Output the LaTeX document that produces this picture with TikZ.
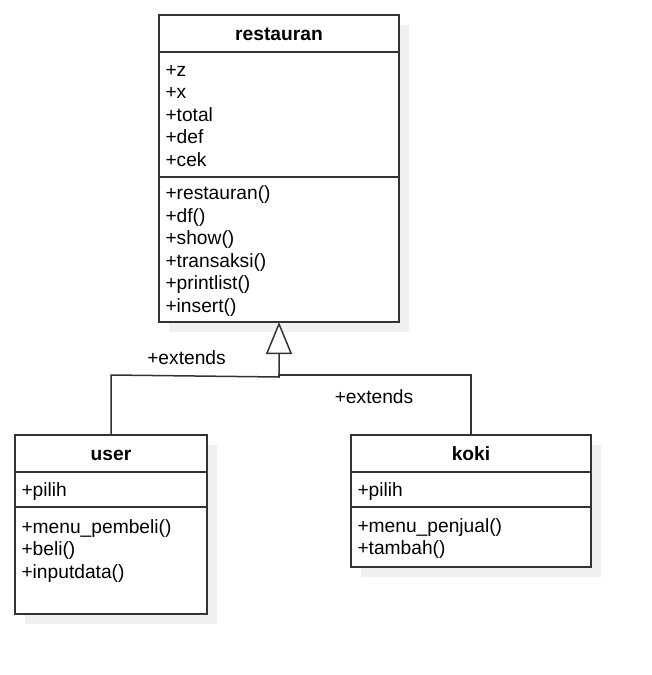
\documentclass[tikz,border=0pt]{standalone}
\usepackage{fontspec}
\setmainfont{Liberation Sans}
\usetikzlibrary{positioning,arrows.meta,backgrounds}

\newcommand{\umlfont}{\fontsize{19.2}{22.5}\selectfont}
\newcommand{\umlstrut}{\rule[-4.75pt]{0pt}{22.5pt}}
\colorlet{umlline}{black!80}
\colorlet{umlshadow}{black!6}
\tikzset{
	part/.style={draw=umlline, fill=white, line width=1.5pt, outer sep=0pt,
		inner xsep=6.5pt, inner ysep=0pt, text width=#1, align=left, font=\umlfont,
		execute at begin node=\umlstrut, execute at end node=\umlstrut},
	head/.style={part=#1, align=center, font=\umlfont\bfseries, minimum height=37pt},
	conn/.style={draw=umlline, line width=1.5pt},
	lbl/.style={font=\umlfont, inner sep=0pt}
}

\begin{document}
\begin{tikzpicture}[x=1pt, y=-1pt]
	\useasboundingbox (0,0) rectangle (651,675);
	\node [head=227pt, anchor=north] (rest-head) at (279,15) {restauran};
	\node [part=227pt, minimum height=125pt, below=0pt of rest-head] (rest-attr)
	{+z\\+x\\+total\\+def\\+cek};
	\node [part=227pt, minimum height=145pt, below=0pt of rest-attr] (rest-ops)
	{+restauran()\\+df()\\+show()\\+transaksi()\\+printlist()\\+insert()};
	\node [head=179pt, anchor=north] (user-head) at (111,435) {user};
	\node [part=179pt, minimum height=35pt, below=0pt of user-head] (user-attr) {+pilih};
	\node [part=179pt, minimum height=107pt, below=0pt of user-attr] (user-ops)
	{+menu\_pembeli()\\+beli()\\+inputdata()\\};
	\node [head=227pt, anchor=north] (koki-head) at (471,435) {koki};
	\node [part=227pt, minimum height=35pt, below=0pt of koki-head] (koki-attr) {+pilih};
	\node [part=227pt, minimum height=60pt, below=0pt of koki-attr] (koki-ops)
	{+menu\_penjual()\\+tambah()};
	\begin{scope}[on background layer]
		\foreach \c in {rest,user,koki}
		\fill [umlshadow] ([shift={(10pt,-10pt)}]\c-head.north west)
		rectangle ([shift={(10pt,-10pt)}]\c-ops.south east);
	\end{scope}
	\coordinate (join) at ([yshift=-55pt]rest-ops.south);
	\draw [conn, -{Triangle[length=32pt, width=26pt, fill=white]}]
	(user-head.north) -- ++(0,-60) -- (join) -- (rest-ops.south);
	\draw [conn] (koki-head.north) -- ++(0,-60) -| (join);
	\node [lbl] (ext-user) at (186.5,357.5) {+extends};
	\node [lbl] (ext-koki) at (374,396.5) {+extends};
\end{tikzpicture}
\end{document}
